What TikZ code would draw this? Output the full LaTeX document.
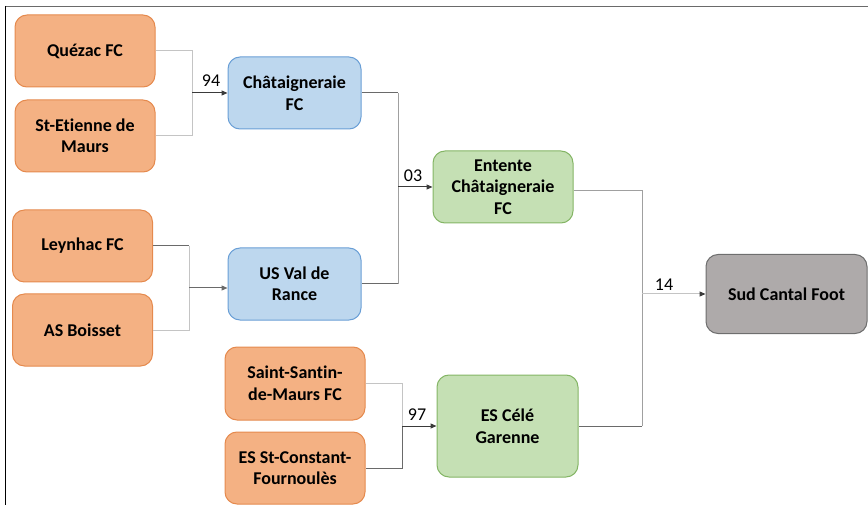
\documentclass[tikz,border=0pt]{standalone}
\usepackage{fontspec}
\setmainfont{Carlito}[Ligatures=NoCommon]
\usetikzlibrary{arrows.meta}
\definecolor{orfill}{HTML}{F4B183}
\definecolor{ordraw}{HTML}{E58A4E}
\definecolor{blfill}{HTML}{BDD7EE}
\definecolor{bldraw}{HTML}{6A9FD6}
\definecolor{grfill}{HTML}{C5E0B4}
\definecolor{grdraw}{HTML}{84B565}
\definecolor{gyfill}{HTML}{AEAAAA}
\definecolor{gydraw}{HTML}{6E6E6E}
\definecolor{lnlight}{HTML}{C4C4C4}
\definecolor{lnmid}{HTML}{A0A0A0}
\definecolor{lndark}{HTML}{6A6A6A}
\definecolor{lnarrow}{HTML}{3A3A3A}
\begin{document}
\begin{tikzpicture}[x=1pt,y=-1pt,
  box/.style={rounded corners=12pt, line width=1pt, align=center, inner sep=0pt,
    font=\bfseries\fontsize{18}{21.5}\selectfont},
  obox/.style={box, fill=orfill, draw=ordraw, minimum width=140pt, minimum height=72pt},
  bbox/.style={box, fill=blfill, draw=bldraw, minimum width=133pt, minimum height=72pt},
  gbox/.style={box, fill=grfill, draw=grdraw, minimum width=140pt, minimum height=72pt},
  ybox/.style={box, fill=gyfill, draw=gydraw, minimum width=161pt, minimum height=79pt},
  ln/.style={line width=1pt},
  arr/.style={line width=1pt, -{Triangle[length=6pt,width=5pt]}},
  lbl/.style={font=\fontsize{18}{20}\selectfont, inner sep=0pt}]
\useasboundingbox (0,0) rectangle (868,505);
% partial frame
\draw[line width=1.5pt, color=lndark] (5,6.5) -- (868,6.5);
\draw[line width=1.5pt, color=black] (5.5,6) -- (5.5,505);

% nodes
\node[obox] (q) at (85,51) {Quézac FC};
\node[obox] (se) at (85,136) {St-Etienne de\\Maurs};
\node[bbox] (ch) at (294.5,93) {Châtaigneraie\\FC};
\node[obox] (ly) at (82.5,246) {Leynhac FC};
\node[obox] (ab) at (82.5,330) {AS Boisset};
\node[bbox] (us) at (294.5,284) {US Val de\\Rance};
\node[gbox] (en) at (503,187) {Entente\\Châtaigneraie\\FC};
\node[obox, minimum height=73pt] (ss) at (295,383.5) {Saint-Santin-\\de-Maurs FC};
\node[obox, minimum height=72pt] (sc) at (295,468) {ES St-Constant-\\Fournoulès};
\node[gbox, minimum width=141pt, minimum height=102pt] (ce) at (507.5,426) {ES Célé\\Garenne};
\node[ybox] (sud) at (786.5,294) {Sud Cantal Foot};

% fork coordinates
\coordinate (f1) at (192,93);
\coordinate (f2) at (189,288);
\coordinate (f3) at (398,187);
\coordinate (f4) at (642,294);
\coordinate (f5) at (402,426);

% fork 1
\draw[ln, lnlight] (q.east) -| (f1);
\draw[ln, lnlight] (f1) |- (se.east);
\draw[arr, lnarrow] (f1) -- (ch.west |- f1);
\node[lbl] (l94) at (211,81) {94};

% fork 2
\draw[ln, lndark] (ly.east) -| (f2 |- ly.east);
\draw[ln, lnlight] (f2 |- ly.east) -- (f2);
\draw[ln, lnlight] (f2) |- (ab.east);
\draw[arr, lndark] (f2) -- (us.west |- f2);

% fork 3
\draw[ln, lndark] (ch.east) -| (f3 |- ch.east);
\draw[ln, lnmid] (f3 |- ch.east) -- (f3 |- us.east);
\draw[ln, lndark] (f3 |- us.east) -- (us.east);
\draw[arr, lnarrow] (f3) -- (en.west |- f3);
\node[lbl] (l03) at (413,176) {03};

% fork 4
\draw[ln, lnmid] ([yshift=-4pt]en.east) -| (f4);
\draw[ln, lnmid] (f4) -- (f4 |- ce.east);
\draw[ln, lndark] (f4 |- ce.east) -- (ce.east);
\draw[ln, lnlight] (f4) -- ([xshift=-5pt]sud.west);
\draw[arr, lnarrow] ([xshift=-6pt]sud.west) -- (sud.west);
\node[lbl] (l14) at (664,285) {14};

% fork 5
\draw[ln, lnlight] (ss.east) -| (f5);
\draw[ln, lndark] (f5) |- (sc.east);
\draw[arr, lnarrow] (f5) -- (ce.west |- f5);
\node[lbl] (l97) at (417,415) {97};
\end{tikzpicture}
\end{document}
